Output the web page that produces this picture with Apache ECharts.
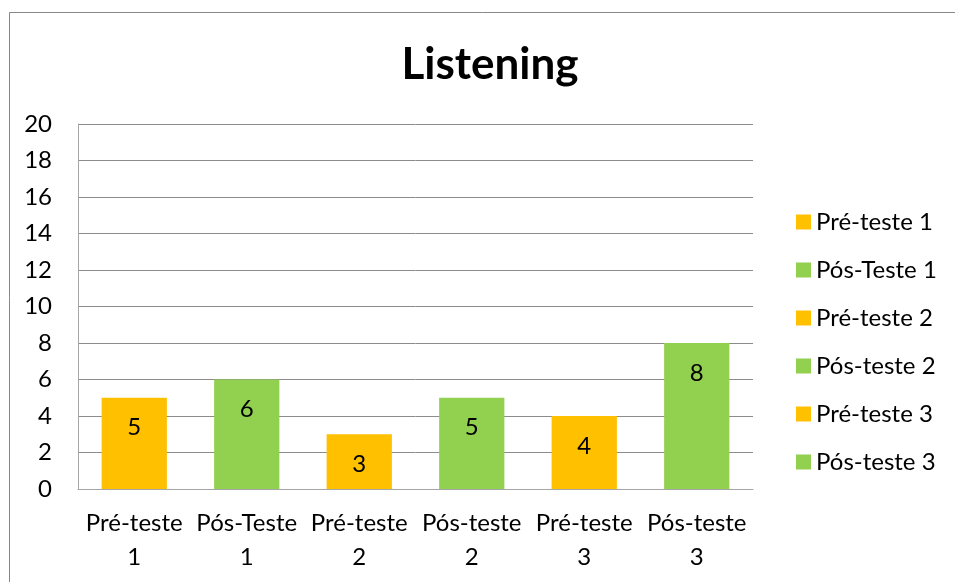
<!DOCTYPE html>
<html>
<head>
<meta charset="utf-8">
<script src="https://cdn.jsdelivr.net/npm/echarts@6/dist/echarts.min.js"></script>
<style>
html,body{margin:0;padding:0;background:#fff;}
#chart{width:955px;height:582px;}
</style>
</head>
<body>
<div id="chart"></div>
<script>
const categories = ['Pré-teste\n1', 'Pós-Teste\n1', 'Pré-teste\n2', 'Pós-teste\n2', 'Pré-teste\n3', 'Pós-teste\n3'];
const seriesNames = ['Pré-teste 1', 'Pós-Teste 1', 'Pré-teste 2', 'Pós-teste 2', 'Pré-teste 3', 'Pós-teste 3'];
const values = [5, 6, 3, 5, 4, 8];
const seriesColors = ['#FFC000', '#92D050', '#FFC000', '#92D050', '#FFC000', '#92D050'];
const yTicks = { min: 0, max: 20, interval: 2 };

const FONT = 'Lato';
const FS = 24;
const chart = echarts.init(document.getElementById('chart'));

const series = seriesNames.map((name, i) => ({
  name: name,
  type: 'bar',
  stack: 'all',
  barWidth: '58%',
  itemStyle: { color: seriesColors[i] },
  label: {
    show: true,
    position: 'insideTop',
    distance: 18,
    color: '#000',
    fontFamily: FONT,
    fontSize: FS
  },
  data: categories.map((c, j) => (j === i ? values[i] : null))
}));

chart.setOption({
  animation: false,
  backgroundColor: '#fff',
  graphic: [{
    type: 'rect',
    shape: { x: 9.5, y: 12.5, width: 1000, height: 600 },
    style: { fill: 'none', stroke: '#888', lineWidth: 1 },
    silent: true,
    z: -1
  }],
  title: {
    text: 'Listening',
    left: 490,
    top: 43,
    padding: 0,
    textAlign: 'center',
    textStyle: { fontFamily: FONT, fontWeight: 'bold', fontSize: 44, color: '#000' }
  },
  legend: {
    orient: 'vertical',
    left: 796,
    top: 210,
    padding: 0,
    itemWidth: 15,
    itemHeight: 15,
    itemGap: 24,
    icon: 'rect',
    textStyle: { fontFamily: FONT, fontSize: FS, color: '#000', lineHeight: 24 },
    data: seriesNames
  },
  grid: { left: 78, right: 202, top: 124, bottom: 93, containLabel: false },
  xAxis: {
    type: 'category',
    data: categories,
    axisLine: { lineStyle: { color: '#A6A6A6' } },
    axisTick: { show: false },
    axisLabel: { fontFamily: FONT, fontSize: FS, color: '#000', lineHeight: 34, margin: 17, interval: 0 }
  },
  yAxis: {
    type: 'value',
    min: yTicks.min,
    max: yTicks.max,
    interval: yTicks.interval,
    axisLine: { show: true, lineStyle: { color: '#A6A6A6' } },
    axisTick: { show: false },
    splitLine: { lineStyle: { color: '#8C8C8C' } },
    axisLabel: { fontFamily: FONT, fontSize: FS, color: '#000', margin: 26 }
  },
  series: series
});
</script>
</body>
</html>
